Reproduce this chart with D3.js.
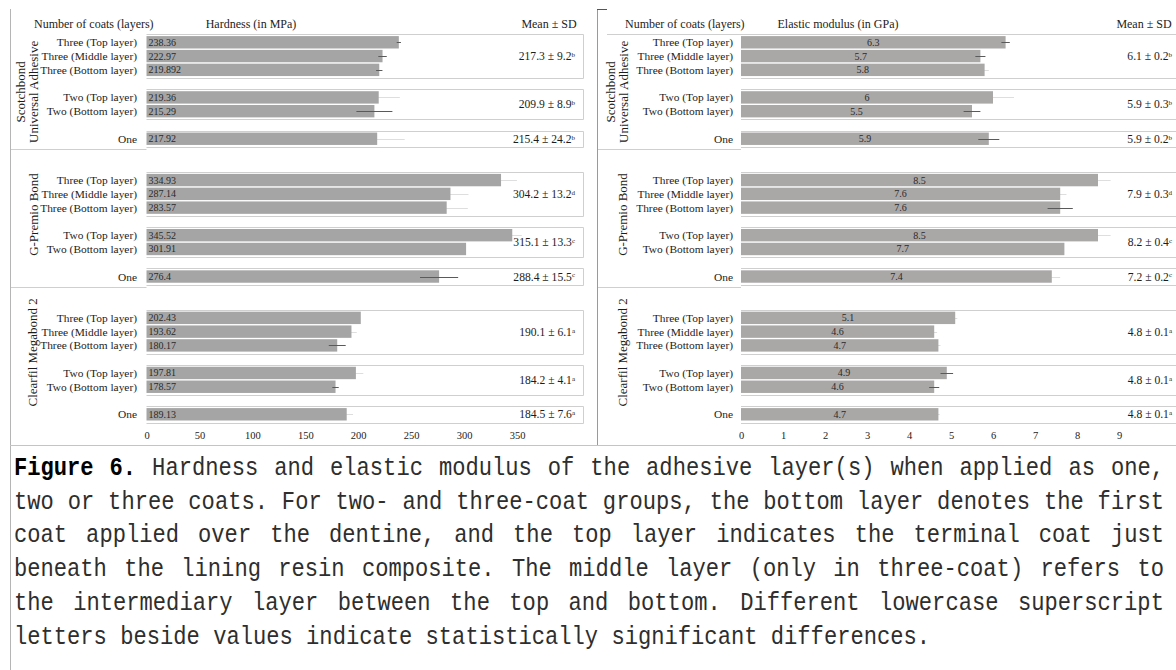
<!DOCTYPE html>
<html>
<head>
<meta charset="utf-8">
<script src="https://cdn.jsdelivr.net/npm/d3@7"></script>
<style>
  body { margin: 0; background: #fff; }
  svg { display: block; }
</style>
</head>
<body>
<script>
// ---- Data -------------------------------------------------------------
const groupNames = ["Scotchbond Universal Adhesive", "G-Premio Bond", "Clearfil Megabond 2"];
const groupLabelLines = [["Scotchbond", "Universal Adhesive"], ["G-Premio Bond"], ["Clearfil Megabond 2"]];
const layerLabels = ["Three (Top layer)", "Three (Middle layer)", "Three (Bottom layer)",
                     "Two (Top layer)", "Two (Bottom layer)", "One"];
const layerCoats = [3, 3, 3, 2, 2, 1];
const coatSets = [3, 2, 1];

// Hardness (MPa), one row per adhesive, ordered as layerLabels
const hardness = [
  [238.36, 222.97, 219.892, 219.36, 215.29, 217.92],
  [334.93, 287.14, 283.57, 345.52, 301.91, 276.4],
  [202.43, 193.62, 180.17, 197.81, 178.57, 189.13]
];
const hardnessErr = [
  [2, 4, 3, 20, 17, 26],
  [15, 17, 20, 9, 0, 18],
  [0, 5, 8, 7, 3, 6]
];
const hardnessMean = [[217.3, 209.9, 215.4], [304.2, 315.1, 288.4], [190.1, 184.2, 184.5]];
const hardnessSD = [[9.2, 8.9, 24.2], [13.2, 13.3, 15.5], [6.1, 4.1, 7.6]];
const hardnessSig = [["b", "b", "b"], ["d", "c", "c"], ["a", "a", "a"]];
const hardnessTicks = [0, 50, 100, 150, 200, 250, 300, 350];

// Elastic modulus (GPa)
const modulus = [
  [6.3, 5.7, 5.8, 6, 5.5, 5.9],
  [8.5, 7.6, 7.6, 8.5, 7.7, 7.4],
  [5.1, 4.6, 4.7, 4.9, 4.6, 4.7]
];
const modulusErr = [
  [0.1, 0.12, 0.1, 0.5, 0.2, 0.25],
  [0.3, 0.15, 0.3, 0.3, 0, 0.2],
  [0.05, 0.07, 0.05, 0.15, 0.12, 0.03]
];
const modulusMean = [[6.1, 5.9, 5.9], [7.9, 8.2, 7.2], [4.8, 4.8, 4.8]];
const modulusSD = [[0.2, 0.3, 0.2], [0.3, 0.4, 0.2], [0.1, 0.1, 0.1]];
const modulusSig = [["b", "b", "b"], ["d", "c", "c"], ["a", "a", "a"]];
const modulusTicks = [0, 1, 2, 3, 4, 5, 6, 7, 8, 9];

const captionLines = [
  "Figure 6. Hardness and elastic modulus of the adhesive layer(s) when applied as one,",
  "two or three coats. For two- and three-coat groups, the bottom layer denotes the first",
  "coat applied over the dentine, and the top layer indicates the terminal coat just",
  "beneath the lining resin composite. The middle layer (only in three-coat) refers to",
  "the intermediary layer between the top and bottom. Different lowercase superscript",
  "letters beside values indicate statistically significant differences."
];

// ---- Styling: which error whiskers print dark (1) or faint (0) --------
const hardnessErrTone = [[1, 1, 1, 0, 1, 0], [0, 0, 0, 0, 0, 1], [0, 0, 1, 0, 1, 0]];
const modulusErrTone = [[1, 1, 0, 0, 1, 1], [0, 0, 1, 0, 0, 0], [0, 0, 0, 1, 1, 0]];

// ---- Layout -----------------------------------------------------------
const W = 1176, H = 670;
const svg = d3.select("body").append("svg")
  .attr("width", W).attr("height", H)
  .style("font-family", "'Liberation Serif', 'Times New Roman', serif");

// slot index of each layer inside a group (blank slot between coat sets)
const layerSlot = [];
layerCoats.forEach((c, i) => {
  layerSlot.push(i === 0 ? 0 : layerSlot[i - 1] + (c !== layerCoats[i - 1] ? 2 : 1));
});
const groupSpan = 10;
const nSlots = (groupNames.length - 1) * groupSpan + d3.max(layerSlot) + 1;
const y = d3.scalePoint().domain(d3.range(nSlots)).range([42.3, 414.3]);
const barH = y.step() * 0.9;
const slot = (g, i) => g * groupSpan + layerSlot[i];
const groupLabelSlot = [3.6, 2.5, 2.5];

const panels = [
  {
    values: hardness, err: hardnessErr, tone: hardnessErrTone,
    mean: hardnessMean, sd: hardnessSD, sig: hardnessSig, ticks: hardnessTicks,
    x: d3.scaleLinear().domain([0, 350]).range([146.5, 517]),
    left: 10.5, groupX: [[20, 33], [33], [32]], labelRight: 137,
    coatHeaderX: 34, title: "Hardness (in MPa)", titleX: 251, meanHeaderX: 549,
    meanRight: 575, boxRight: 583.5, headerLineX: null,
    valueAt: "start", fill: "#a5a5a5"
  },
  {
    values: modulus, err: modulusErr, tone: modulusErrTone,
    mean: modulusMean, sd: modulusSD, sig: modulusSig, ticks: modulusTicks,
    x: d3.scaleLinear().domain([0, 9]).range([741, 1119]),
    left: 597.5, groupX: [[610, 623], [622], [622]], labelRight: 733,
    coatHeaderX: 625, title: "Elastic modulus (in GPa)", titleX: 838, meanHeaderX: 1144,
    meanRight: 1172, boxRight: null, headerLineX: 607,
    valueAt: "middle", fill: "#aaa7a7"
  }
];

const ink = "#1c1c1c";
const rule = "#cfcfcf";

panels.forEach(p => {
  const g = svg.append("g");
  const x = p.x;
  const x0 = x(0);
  const right = p.boxRight === null ? W : p.boxRight;

  // headers
  const hdr = g.append("g").attr("font-size", 12).attr("fill", ink);
  hdr.append("text").attr("x", p.coatHeaderX).attr("y", 28).text("Number of coats (layers)");
  hdr.append("text").attr("x", p.titleX).attr("y", 28).attr("text-anchor", "middle").text(p.title);
  hdr.append("text").attr("x", p.meanHeaderX).attr("y", 28).attr("text-anchor", "middle").text("Mean \u00b1 SD");

  // table rules around each coat set (drawn under the bars)
  const rules = g.append("g").attr("stroke", rule).attr("stroke-width", 1).attr("fill", "none");
  groupNames.forEach((name, gi) => {
    coatSets.forEach(c => {
      const idx = d3.range(layerCoats.length).filter(i => layerCoats[i] === c);
      const top = Math.round(y(slot(gi, idx[0])) - barH / 2 - 2) + 0.5;
      const bot = Math.round(y(slot(gi, idx[idx.length - 1])) + barH / 2 + 2) + 0.5;
      const startTop = (gi === 0 && c === coatSets[0] && p.headerLineX !== null) ? p.headerLineX : x0;
      rules.append("line").attr("x1", startTop).attr("x2", right).attr("y1", top).attr("y2", top);
      rules.append("line").attr("x1", x0).attr("x2", right).attr("y1", bot).attr("y2", bot);
      if (p.boxRight !== null) {
        rules.append("line").attr("x1", right).attr("x2", right).attr("y1", top).attr("y2", bot);
      }
    });
    if (gi < groupNames.length - 1) {
      const ys = Math.round(y(slot(gi, layerCoats.length - 1)) + barH / 2 + 4) + 0.5;
      rules.append("line").attr("x1", p.left).attr("x2", x0).attr("y1", ys).attr("y2", ys);
    }
  });

  // group labels (rotated)
  groupLabelLines.forEach((lines, gi) => {
    const cy = y(gi * groupSpan) + groupLabelSlot[gi] * y.step();
    lines.forEach((ln, li) => {
      g.append("text")
        .attr("transform", `translate(${p.groupX[gi][li]},${cy}) rotate(-90)`)
        .attr("text-anchor", "middle").attr("dy", "0.35em")
        .attr("font-size", 13).attr("fill", ink).text(ln);
    });
  });

  // rows
  groupNames.forEach((name, gi) => {
    layerLabels.forEach((lab, i) => {
      const cy = y(slot(gi, i));
      const v = p.values[gi][i];
      const e = p.err[gi][i];
      const dark = p.tone[gi][i] === 1;
      const whisker = sel => sel.append("line")
        .attr("x1", x(v - e)).attr("x2", x(v + e))
        .attr("y1", Math.round(cy) + 0.5).attr("y2", Math.round(cy) + 0.5)
        .attr("stroke", dark ? "#5a5a5a" : "#dedede").attr("stroke-width", 1);

      g.append("text").attr("x", p.labelRight).attr("y", cy).attr("dy", "0.35em")
        .attr("text-anchor", "end").attr("font-size", 11.4).attr("fill", ink).text(lab);
      // faint whiskers sit behind the bar, dark ones on top of it
      if (e > 0 && !dark) whisker(g);
      g.append("rect").attr("x", x0).attr("y", cy - barH / 2)
        .attr("width", x(v) - x0).attr("height", barH).attr("fill", p.fill);
      if (e > 0 && dark) whisker(g);
      g.append("text")
        .attr("x", p.valueAt === "start" ? x0 + 2 : (x0 + x(v)) / 2)
        .attr("y", cy).attr("dy", "0.35em")
        .attr("text-anchor", p.valueAt).attr("font-size", 10).attr("fill", "#2a2a2a")
        .text(String(v));
    });

    // mean ± SD per coat set
    coatSets.forEach((c, ci) => {
      const idx = d3.range(layerCoats.length).filter(i => layerCoats[i] === c);
      const cy = d3.mean(idx, i => y(slot(gi, i)));
      const t = g.append("text").attr("x", p.meanRight).attr("y", cy).attr("dy", "0.35em")
        .attr("text-anchor", "end").attr("font-size", 11.6).attr("fill", ink);
      t.append("tspan").text(`${p.mean[gi][ci]} \u00b1 ${p.sd[gi][ci]}`);
      t.append("tspan").attr("font-size", 7).attr("dy", "-0.45em").text(p.sig[gi][ci]);
    });
  });

  // value axis (labels only)
  const ax = g.append("g").attr("transform", "translate(0,432)")
    .call(d3.axisBottom(x).tickValues(p.ticks).tickSize(0).tickPadding(0).tickFormat(d3.format("d")));
  ax.select(".domain").remove();
  ax.selectAll("text").attr("font-family", "'Liberation Serif', serif").attr("font-size", 10.5).attr("fill", ink);
});

// panel frames
const frame = svg.append("g").attr("fill", "none");
frame.append("line").attr("x1", 10.5).attr("x2", 10.5).attr("y1", 9).attr("y2", H).attr("stroke", "#b5b5b5");
frame.append("line").attr("x1", 597.5).attr("x2", 597.5).attr("y1", 9).attr("y2", 446).attr("stroke", "#9a9a9a");
frame.append("line").attr("x1", 597).attr("x2", 607).attr("y1", 9.5).attr("y2", 9.5).attr("stroke", "#555");
frame.append("line").attr("x1", 10).attr("x2", W).attr("y1", 445.5).attr("y2", 445.5).attr("stroke", "#c4c4c4");

// caption: narrow monospace glyphs, lines justified to the column width
const capSize = 25, capSquash = 0.885;
const cap = svg.append("g")
  .attr("font-family", "'Liberation Mono', 'DejaVu Sans Mono', monospace")
  .attr("font-size", capSize).attr("fill", "#2e2e2e");
const probe = cap.append("text").text("0".repeat(50));
const adv = probe.node().getComputedTextLength() / 50 * capSquash;
probe.remove();
const capX = 14, capRight = 1164, capY0 = 475, capLead = 33.7;
captionLines.forEach((line, li) => {
  const words = line.split(" ");
  const chars = d3.sum(words, w => w.length);
  const justify = li < captionLines.length - 1;
  const gap = justify ? (capRight - capX - chars * adv) / (words.length - 1) : adv;
  const t = cap.append("text")
    .attr("transform", `translate(${capX},${capY0 + li * capLead}) scale(${capSquash},1)`);
  let xx = 0;
  words.forEach((w, wi) => {
    const lead = li === 0 && wi < 2;
    t.append("tspan").attr("x", xx / capSquash)
      .attr("font-weight", lead ? "bold" : null)
      .attr("fill", lead ? "#000" : null)
      .text(w);
    xx += w.length * adv + gap;
  });
});
</script>
</body>
</html>
